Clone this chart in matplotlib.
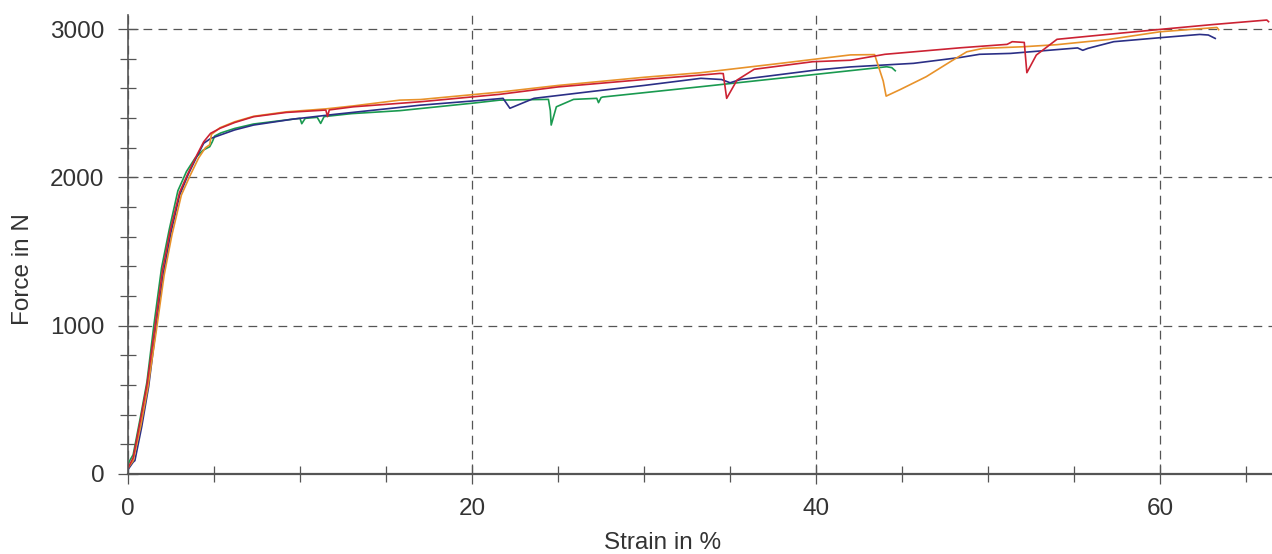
import numpy as np
import matplotlib
matplotlib.use("Agg")
import matplotlib.pyplot as plt
from matplotlib.ticker import MultipleLocator

plt.rcParams.update({'font.family': ['Liberation Sans', 'DejaVu Sans'],
                     'font.size': 17.5,
                     'text.color': '#333333',
                     'axes.labelcolor': '#333333',
                     'xtick.color': '#555555',
                     'ytick.color': '#555555',
                     'xtick.labelcolor': '#333333',
                     'ytick.labelcolor': '#333333',
                     })

# specimen curves, strain in %, force in N
red_x = [0, 0.3, 0.7, 1.1, 1.55, 2.0, 2.45, 3.0, 3.5, 4.0, 4.4, 4.8, 5.35, 6.2, 7.3, 9.2,
         11.5, 11.6, 11.7, 13.1, 17.0, 21.6, 25, 30, 33.3, 34.4, 34.6, 34.8, 35.4, 36.4,
         39.8, 42, 44, 48.4, 51.1, 51.4, 52.1, 52.25, 52.8, 54.0, 57, 60, 63, 66.2, 66.3]
red_f = [40, 110, 350, 600, 980, 1370, 1640, 1900, 2030, 2150, 2240, 2297, 2331, 2370, 2409, 2438,
         2454, 2410, 2455, 2476, 2510, 2560, 2610, 2660, 2690, 2701, 2700, 2533, 2656, 2729,
         2780, 2790, 2830, 2874, 2897, 2915, 2910, 2706, 2825, 2931, 2965, 2998, 3030, 3061, 3050]

orange_x = [0, 0.3, 0.75, 1.15, 1.65, 2.1, 2.55, 3.1, 3.6, 4.1, 4.5, 4.75, 4.85, 5.35, 6.2,
            7.3, 9.2, 11.5, 13.1, 15.8, 17.0, 21.6, 25, 30, 33.3, 38, 42.0, 43.4, 43.9,
            44.07, 44.9, 46.4, 47.8, 48.76, 49.7, 52.05, 54, 57, 60, 63.3, 63.4]
orange_f = [40, 90, 330, 580, 970, 1340, 1610, 1880, 2010, 2130, 2200, 2220, 2290, 2335, 2375,
            2412, 2442, 2462, 2482, 2521, 2525, 2575, 2620, 2675, 2706, 2770, 2826, 2828, 2650,
            2548, 2593, 2679, 2780, 2847, 2870, 2881, 2895, 2930, 2982, 3011, 2996]

blue_x = [0, 0.3, 0.4, 0.8, 1.2, 1.6, 2.05, 2.5, 3.0, 3.5, 4.0, 4.4, 4.8, 5.35, 6.2, 7.3,
          9.6, 12, 15.8, 17.0, 20, 21.8, 22.2, 23.6, 27, 30, 33.3, 34.5, 35.0, 35.6, 37,
          40, 42, 45.66, 48.4, 49.5, 51.3, 55.2, 55.5, 55.8, 57.3, 60, 62.3, 62.8, 63.2]
blue_f = [30, 80, 90, 320, 590, 960, 1350, 1630, 1880, 2020, 2140, 2230, 2262, 2285, 2320, 2353,
          2393, 2425, 2472, 2487, 2515, 2533, 2466, 2533, 2580, 2620, 2668, 2660, 2638, 2660, 2680,
          2724, 2745, 2769, 2809, 2830, 2836, 2873, 2857, 2870, 2915, 2942, 2964, 2960, 2937]

green_x = [0, 0.1, 0.3, 0.7, 1.1, 1.5, 1.95, 2.4, 2.9, 3.4, 3.9, 4.36, 4.75, 4.9, 5.04, 5.4,
           6.2, 7.3, 9.6, 10.0, 10.1, 10.3, 11.0, 11.2, 11.4, 13, 15.8, 20, 21.6, 24.44, 24.55,
           24.6, 24.9, 25.9, 27.25, 27.35, 27.5, 27.6, 33.26, 38, 44.1, 44.4, 44.6]
green_f = [60, 90, 130, 370, 620, 1000, 1390, 1650, 1910, 2040, 2130, 2183, 2207, 2240, 2279, 2300,
           2330, 2360, 2393, 2398, 2362, 2398, 2405, 2364, 2410, 2430, 2450, 2500, 2521, 2526, 2450,
           2353, 2476, 2526, 2533, 2504, 2538, 2542, 2611, 2670, 2746, 2740, 2719]

fig = plt.figure(figsize=(12.72, 5.54), dpi=100)
ax = fig.add_axes([128 / 1272, 80 / 554, 1 - 128 / 1272, 459 / 554])

ax.plot(green_x, green_f, color='#1a9a50', lw=1.2)
ax.plot(blue_x, blue_f, color='#2b2f86', lw=1.2)
ax.plot(orange_x, orange_f, color='#e8922a', lw=1.2)
ax.plot(red_x, red_f, color='#cc2233', lw=1.2)

ax.set_xlim(0, 66.5)
ax.set_ylim(0, 3095)
ax.xaxis.set_major_locator(MultipleLocator(20))
ax.xaxis.set_minor_locator(MultipleLocator(5))
ax.yaxis.set_major_locator(MultipleLocator(1000))
ax.yaxis.set_minor_locator(MultipleLocator(200))

ax.grid(True, which='major', color='#555555', lw=0.9, linestyle=(0, (7, 5)))
ax.tick_params(axis='both', which='both', direction='inout', width=0.9)
ax.tick_params(axis='both', which='major', length=14)
ax.tick_params(axis='both', which='minor', length=11)
ax.tick_params(axis='x', which='both', pad=10)
ax.tick_params(axis='y', which='both', pad=10)

for s in ['top', 'right']:
    ax.spines[s].set_visible(False)
ax.spines['bottom'].set_color('#555555')
ax.spines['bottom'].set_linewidth(1.6)
ax.spines['left'].set_color('#555555')
ax.spines['left'].set_linewidth(1.2)

ax.set_xlabel('Strain in %', fontsize=17.5)
ax.set_ylabel('Force in N', fontsize=17.5)
ax.xaxis.set_label_coords(0.4677, -0.150)
ax.yaxis.set_label_coords(-0.0922, 0.447)
ax.xaxis.label.set_va('center')
ax.yaxis.label.set_va('center')

fig.savefig('out.png', dpi=100)
